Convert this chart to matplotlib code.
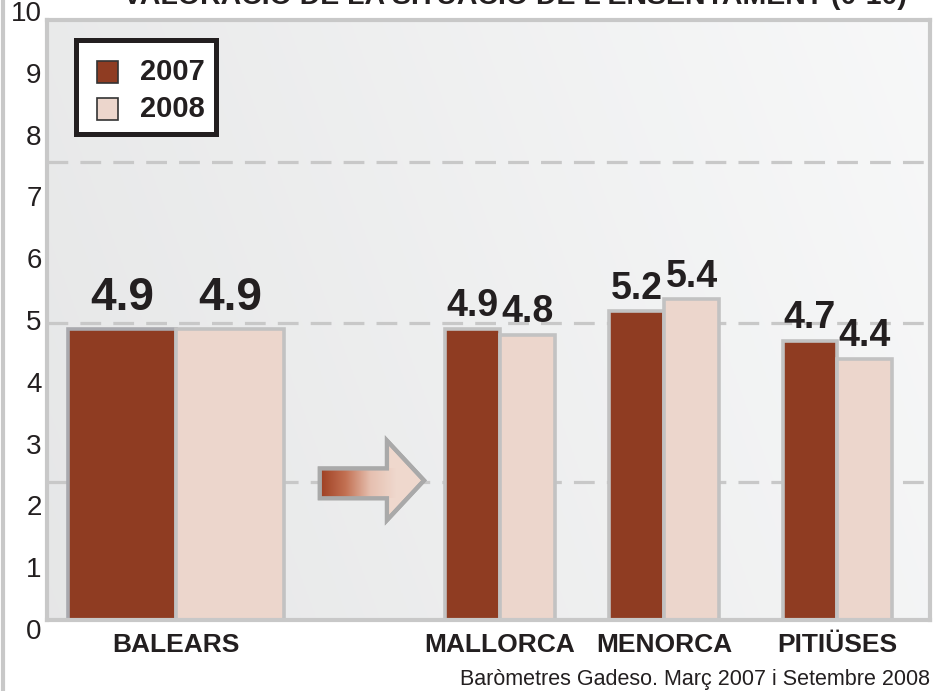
import numpy as np
import matplotlib
matplotlib.use("Agg")
import matplotlib.pyplot as plt
from matplotlib.patches import Rectangle, Polygon
from matplotlib.lines import Line2D
from matplotlib.colors import LinearSegmentedColormap

plt.rcParams["font.family"] = ["Liberation Sans", "DejaVu Sans"]

# data
regions = ["BALEARS", "MALLORCA", "MENORCA", "PITIÜSES"]
values_2007 = [4.9, 4.9, 5.2, 4.7]
values_2008 = [4.9, 4.8, 5.4, 4.4]
value_labels_2007 = ["4.9", "4.9", "5.2", "4.7"]
value_labels_2008 = ["4.9", "4.8", "5.4", "4.4"]
years = ["2007", "2008"]
yticks = list(range(0, 11))
gridlines = [2.32, 5.0, 7.71]

title = "VALORACIÓ DE LA SITUACIÓ DE L'ENSENYAMENT (0-10)"
source = "Baròmetres Gadeso. Març 2007 i Setembre 2008"

# layout
W, H = 938, 691
centers = [1.46, 5.13, 6.99, 8.95]
widths = [1.22, 0.62, 0.62, 0.62]
C07 = "#8f3c22"
C08 = "#ecd6cc"
EDGE = "#c2c2c2"
GRID = "#c8c8c8"
INK = "#231f20"


def fx(px):
    return px / W


def fy(py):
    return 1 - py / H


fig = plt.figure(figsize=(W / 100, H / 100), dpi=100)
ax = fig.add_axes([fx(47), fy(620), fx(930) - fx(47), fy(20) - fy(620)])
ax.set_xlim(0, 10)
ax.set_ylim(0, 10.1)

# panel background gradient
gx = np.linspace(0, 1, 300)
gy = np.linspace(0, 1, 200)
GX, GY = np.meshgrid(gx, gy)
shade = 0.902 + 0.068 * (0.8 * GX + 0.2 * GY)
bg = np.clip(np.dstack([shade, shade + 0.003, shade + 0.005]), 0, 1)
ax.imshow(bg, extent=[0, 10, 0, 10.1], aspect="auto", origin="lower", zorder=0)

for g in gridlines:
    ax.axhline(g, color=GRID, lw=2.3, ls=(0, (6.5, 3.8)), zorder=1)

for i, (c, w) in enumerate(zip(centers, widths)):
    ax.bar(c - w / 2, values_2007[i], w, color=C07, edgecolor=EDGE if i else "#a9a9ae",
           linewidth=2.6, zorder=2)
    ax.bar(c + w / 2, values_2008[i], w, color=C08, edgecolor=EDGE, linewidth=2.6, zorder=2)
    big = i == 0
    fs = 33 if big else 27
    off = 13.5 if big else 9
    for dx, v, lab in [(-w / 2, values_2007[i], value_labels_2007[i]),
                       (w / 2, values_2008[i], value_labels_2008[i])]:
        ax.annotate(lab, (c + dx, v), xytext=(0, off), textcoords="offset points",
                    ha="center", va="baseline", fontsize=fs, fontweight="bold",
                    color=INK, zorder=5)

# arrow between Balears and islands
arrow_pts = [(3.09, 2.55), (3.85, 2.55), (3.85, 3.02), (4.27, 2.35),
             (3.85, 1.68), (3.85, 2.05), (3.09, 2.05)]
arrow = Polygon(arrow_pts, closed=True, facecolor="#efd8cd", edgecolor="#a9a9a9",
                linewidth=3, zorder=3)
ax.add_patch(arrow)
cmap = LinearSegmentedColormap.from_list("arr", ["#9e3f22", "#c27052", "#e6c0b0", "#efd8cd"])
grad = np.linspace(0, 1, 256).reshape(1, -1)
im = ax.imshow(grad, extent=[3.09, 3.95, 2.05, 2.55], aspect="auto", cmap=cmap, zorder=3.5)
im.set_clip_path(arrow)
ax.add_patch(Polygon(arrow_pts, closed=True, facecolor="none", edgecolor="#a9a9a9",
                     linewidth=3, zorder=4))

for s in ax.spines.values():
    s.set_color(GRID)
    s.set_linewidth(3)
    s.set_zorder(6)

# y labels sit on their own slightly wider spacing, as in the original artwork
ax.set_yticks([])
ylab_tr = ax.get_yaxis_transform()
for t in yticks:
    ax.text(-0.006, t * 1.04 - 0.2, str(t), transform=ylab_tr, ha="right", va="center",
            fontsize=20, color=INK)

ax.set_xticks(centers)
ax.set_xticklabels(regions, fontsize=19, fontweight="bold", color=INK)
ax.tick_params(axis="x", length=0, pad=9)

# legend drawn by hand
fig.patches.append(Rectangle((fx(75.5), fy(133.5)), fx(215.5) - fx(75.5), fy(40.5) - fy(133.5),
                             transform=fig.transFigure, facecolor="white",
                             edgecolor=INK, linewidth=3.6, zorder=10))
for k, (yr, col) in enumerate(zip(years, [C07, C08])):
    top = 61 + k * 37
    fig.patches.append(Rectangle((fx(97), fy(top + 22)), fx(118) - fx(97), fy(top) - fy(top + 22),
                                 transform=fig.transFigure, facecolor=col,
                                 edgecolor="#333333", linewidth=1.2, zorder=11))
    fig.text(fx(140), fy(top + 11), yr, fontsize=21, fontweight="bold", color=INK,
             ha="left", va="center", zorder=12)

# title (cut at top, as in the source image) and source note
fig.text(fx(515), fy(4), title, fontsize=20.5, fontweight="bold", color=INK,
         ha="center", va="baseline")
fig.text(fx(930), fy(685), source, fontsize=15.5, color=INK, ha="right", va="baseline")

fig.lines.append(Line2D([fx(3), fx(3)], [0, 1], transform=fig.transFigure,
                        color=GRID, linewidth=3))

fig.savefig("out.png", dpi=100)
